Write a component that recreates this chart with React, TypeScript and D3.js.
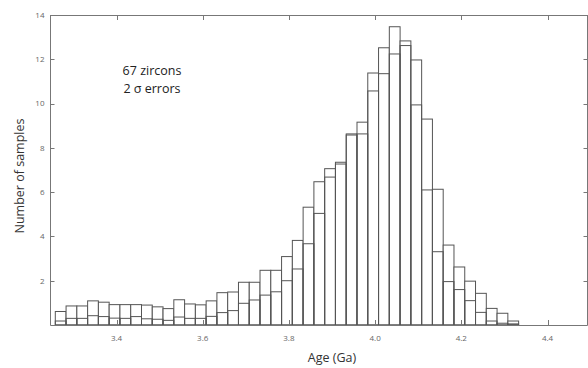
import React, { useEffect, useRef } from 'react';
import * as d3 from 'd3';

// left edge of each 0.025 Ga bin
const binStarts = [
  3.258, 3.283, 3.308, 3.333, 3.358, 3.383, 3.408, 3.433, 3.458, 3.483,
  3.508, 3.533, 3.558, 3.583, 3.608, 3.633, 3.658, 3.683, 3.708, 3.733,
  3.758, 3.783, 3.808, 3.833, 3.858, 3.883, 3.908, 3.933, 3.958, 3.983,
  4.008, 4.033, 4.058, 4.083, 4.108, 4.133, 4.158, 4.183, 4.208, 4.233,
  4.258, 4.283, 4.308
];
const binWidth = 0.025;

// taller outline histogram
const outerCounts = [
  0.61, 0.86, 0.86, 1.09, 1.03, 0.92, 0.92, 0.92, 0.9, 0.82,
  0.74, 1.14, 0.95, 0.91, 1.09, 1.46, 1.49, 1.93, 1.93, 2.47,
  2.47, 3.09, 3.82, 5.32, 6.47, 7.06, 7.35, 8.63, 9.16, 11.38,
  12.52, 13.47, 12.83, 11.97, 9.3, 6.13, 3.61, 2.62, 1.98, 1.43,
  0.75, 0.53, 0.18
];

// inner outline histogram
const innerCounts = [
  0.18, 0.3, 0.3, 0.42, 0.38, 0.31, 0.3, 0.38, 0.28, 0.26,
  0.21, 0.36, 0.3, 0.3, 0.39, 0.56, 0.65, 0.98, 1.13, 1.35,
  1.5, 2.0, 2.53, 3.67, 5.04, 6.68, 7.27, 8.58, 8.63, 10.57,
  11.35, 12.24, 12.62, 9.94, 6.1, 3.31, 1.96, 1.6, 1.1, 0.57,
  0.18, 0.08, 0.05
];

const xTicks = [3.4, 3.6, 3.8, 4.0, 4.2, 4.4];
const yTicks = [2, 4, 6, 8, 10, 12, 14];

const App = () => {
  const ref = useRef<SVGSVGElement>(null);

  useEffect(() => {
    const svg = d3.select(ref.current);
    svg.selectAll('*').remove();

    const left = 50.5, right = 587.5, top = 15, bottom = 325;
    const x = d3.scaleLinear().domain([3.4, 4.4]).range([116.5, 547.5]);
    const y = d3.scaleLinear().domain([0, 14]).range([bottom, top]);
    const font = "'Open Sans', 'DejaVu Sans', sans-serif";
    const lineCol = '#555';

    const g = svg.append('g');

    // bars: outer first, inner outline on top
    g.selectAll('.outer')
      .data(binStarts)
      .enter()
      .append('rect')
      .attr('class', 'outer')
      .attr('x', d => x(d))
      .attr('y', (d, i) => y(outerCounts[i]))
      .attr('width', d => x(d + binWidth) - x(d))
      .attr('height', (d, i) => bottom - y(outerCounts[i]))
      .attr('fill', '#fff')
      .attr('stroke', lineCol)
      .attr('stroke-width', 1);

    g.selectAll('.inner')
      .data(binStarts)
      .enter()
      .append('rect')
      .attr('class', 'inner')
      .attr('x', d => x(d))
      .attr('y', (d, i) => y(innerCounts[i]))
      .attr('width', d => x(d + binWidth) - x(d))
      .attr('height', (d, i) => bottom - y(innerCounts[i]))
      .attr('fill', 'none')
      .attr('stroke', lineCol)
      .attr('stroke-width', 1);

    // frame
    const frame = svg.append('g').attr('stroke', '#777').attr('stroke-width', 1);
    frame.append('line').attr('x1', left).attr('x2', right).attr('y1', bottom + 0.5).attr('y2', bottom + 0.5);
    frame.append('line').attr('x1', left).attr('x2', right).attr('y1', top + 0.5).attr('y2', top + 0.5);
    frame.append('line').attr('x1', left).attr('x2', left).attr('y1', top).attr('y2', bottom + 0.5);
    frame.append('line').attr('x1', right).attr('x2', right).attr('y1', top).attr('y2', bottom + 0.5);

    // x ticks, pointing inward top and bottom
    xTicks.forEach(t => {
      const px = Math.round(x(t)) + 0.5;
      frame.append('line').attr('x1', px).attr('x2', px).attr('y1', bottom).attr('y2', bottom - 5);
      frame.append('line').attr('x1', px).attr('x2', px).attr('y1', top).attr('y2', top + 5);
      svg.append('text')
        .attr('x', x(t))
        .attr('y', bottom + 16)
        .attr('text-anchor', 'middle')
        .attr('font-family', font)
        .attr('font-size', 8)
        .attr('fill', '#666')
        .text(d3.format('.1f')(t));
    });

    // y ticks, left and right
    yTicks.forEach(t => {
      const py = Math.round(y(t)) + 0.5;
      frame.append('line').attr('x1', left).attr('x2', left + 4).attr('y1', py).attr('y2', py);
      frame.append('line').attr('x1', right).attr('x2', right - 4).attr('y1', py).attr('y2', py);
      svg.append('text')
        .attr('x', left - 6)
        .attr('y', y(t))
        .attr('dy', '0.35em')
        .attr('text-anchor', 'end')
        .attr('font-family', font)
        .attr('font-size', 8)
        .attr('fill', '#666')
        .text(t);
    });

    // axis titles
    svg.append('text')
      .attr('x', 332)
      .attr('y', 362)
      .attr('text-anchor', 'middle')
      .attr('font-family', font)
      .attr('font-size', 12.5)
      .attr('fill', '#333')
      .text('Age (Ga)');

    svg.append('text')
      .attr('transform', 'translate(24,176) rotate(-90)')
      .attr('text-anchor', 'middle')
      .attr('font-family', font)
      .attr('font-size', 12.5)
      .attr('fill', '#333')
      .text('Number of samples');

    // annotation
    const note = svg.append('g')
      .attr('font-family', font)
      .attr('font-size', 12.5)
      .attr('fill', '#222')
      .attr('text-anchor', 'middle');
    note.append('text').attr('x', 152).attr('y', 75).text('67 zircons');
    note.append('text').attr('x', 152).attr('y', 93).text('2 σ errors');
  }, []);

  return (
    <svg
      ref={ref}
      width={588}
      height={368}
      style={{ position: 'absolute', left: 0, top: 0, background: '#fff' }}
    />
  );
};

export default App;
